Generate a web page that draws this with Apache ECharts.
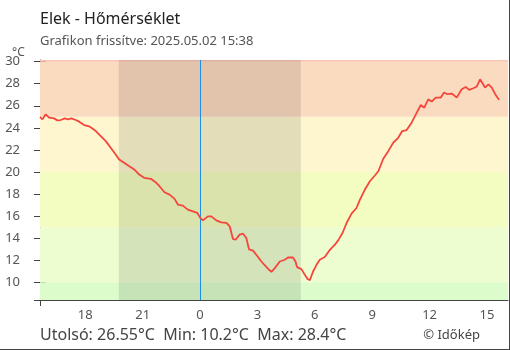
<!DOCTYPE html>
<html>
<head>
<meta charset="utf-8">
<script src="https://cdn.jsdelivr.net/npm/echarts@6/dist/echarts.min.js"></script>
<style>
  html, body { margin: 0; padding: 0; background: #fff; }
  #c { width: 510px; height: 350px; box-sizing: border-box; border-right: 1px solid #444; border-bottom: 1px solid #444; }
</style>
</head>
<body>
<div id="c"></div>
<script>
// Hours relative to midnight of 2025.05.02 (negative = previous evening)
const hours = [-8.367, -8.24, -8.07, -7.89, -7.63, -7.46, -7.29, -7.06, -6.90, -6.73,
  -6.50, -6.32, -6.06, -5.80, -5.63, -5.45, -5.19, -4.93, -4.67, -4.41,
  -4.23, -3.97, -3.70, -3.44, -3.18, -2.92, -2.57, -2.31, -2.12, -1.86,
  -1.59, -1.33, -1.16, -0.90, -0.64, -0.37, -0.14, 0.01, 0.15, 0.41,
  0.59, 0.85, 1.11, 1.38, 1.55, 1.72, 1.86, 2.07, 2.25, 2.42,
  2.56, 2.77, 2.98, 3.21, 3.38, 3.61, 3.73, 3.91, 4.17, 4.43,
  4.60, 4.86, 4.99, 5.07, 5.30, 5.48, 5.62, 5.74, 5.91, 6.09,
  6.26, 6.52, 6.79, 7.05, 7.22, 7.45, 7.66, 7.92, 8.18, 8.36,
  8.62, 8.88, 9.14, 9.32, 9.58, 9.84, 10.10, 10.36, 10.57, 10.80,
  11.06, 11.33, 11.54, 11.72, 11.93, 12.11, 12.32, 12.58, 12.76, 12.93,
  13.16, 13.42, 13.68, 13.89, 14.07, 14.29, 14.47, 14.64, 14.90, 15.08,
  15.25, 15.43, 15.633];

const temps = [24.98, 24.77, 25.23, 24.93, 24.86, 24.68, 24.71, 24.86, 24.77, 24.86,
  24.71, 24.56, 24.25, 24.14, 23.95, 23.71, 23.25, 22.80, 22.20, 21.59,
  21.14, 20.84, 20.53, 20.23, 19.77, 19.47, 19.38, 19.05, 18.71, 18.16,
  17.95, 17.56, 17.05, 16.95, 16.59, 16.44, 16.29, 15.84, 15.62, 15.98,
  15.98, 15.62, 15.44, 15.38, 15.08, 13.93, 13.86, 14.32, 14.41, 14.02,
  12.99, 12.87, 12.41, 11.89, 11.55, 11.14, 10.95, 11.29, 11.89, 12.05,
  12.25, 12.25, 11.89, 11.38, 11.20, 10.68, 10.30, 10.20, 10.98, 11.59,
  12.05, 12.29, 12.95, 13.41, 13.80, 14.47, 15.38, 16.23, 16.74, 17.50,
  18.41, 19.16, 19.68, 20.07, 21.20, 21.89, 22.65, 23.10, 23.71, 23.80,
  24.47, 25.38, 26.07, 25.83, 26.59, 26.38, 26.74, 26.74, 27.20, 27.05,
  27.11, 26.74, 27.50, 27.71, 27.44, 27.59, 27.75, 28.40, 27.65, 27.95,
  27.65, 27.05, 26.55];

const xTickHours = [-6, -3, 0, 3, 6, 9, 12, 15];
const yTickValues = [10, 12, 14, 16, 18, 20, 22, 24, 26, 28, 30];
const bandThresholds = [10, 15, 20, 25, 30];
const bandColors = ['#dcfdcb', '#eefdd0', '#f4fdc1', '#fdf6cf', '#fbdbbf', '#fcc4b2'];
const sunsetHour = -4.25;   // 19:45
const sunriseHour = 5.27;   // 05:16
const xMin = -8.367, xMax = 16.1;
const yMin = 8.4, yMax = 30.15;

const title = 'Elek - Hőmérséklet';
const subtitle = 'Grafikon frissítve: 2025.05.02 15:38';
const unitLabel = '°C';
const credit = '© Időkép';

const last = temps[temps.length - 1];
const minT = Math.min(...temps);
const maxT = Math.max(...temps);
const footer = 'Utolsó: ' + last + '°C  Min: ' + minT + '°C  Max: ' + maxT + '°C';

const edges = [yMin].concat(bandThresholds, [yMax]);
const bandAreas = [];
for (let i = 0; i < edges.length - 1; i++) {
  bandAreas.push([{ yAxis: edges[i], itemStyle: { color: bandColors[i], opacity: 1 } }, { yAxis: edges[i + 1] }]);
}

const font = 'Noto Sans';
const chart = echarts.init(document.getElementById('c'));
chart.setOption({
  animation: false,
  textStyle: { fontFamily: font },
  title: [
    { text: title, left: 35, top: 6, textStyle: { fontSize: 16, fontWeight: 'normal', color: '#222', fontFamily: font } },
    { text: subtitle, left: 35, top: 30, textStyle: { fontSize: 13, fontWeight: 'normal', color: '#555', fontFamily: font } },
    { text: unitLabel, left: 7, top: 42, textStyle: { fontSize: 12, fontWeight: 'normal', color: '#555', fontFamily: font } },
    { text: footer, left: 35, top: 322, textStyle: { fontSize: 16, fontWeight: 'normal', color: '#444', fontFamily: font } },
    { text: credit, right: 24, top: 324, textStyle: { fontSize: 13, fontWeight: 'normal', color: '#444', fontFamily: font } }
  ],
  grid: { left: 40, right: 1, top: 60, bottom: 49 },
  xAxis: [
    {
      type: 'value', min: xMin, max: xMax,
      axisLine: { show: true, onZero: false, lineStyle: { color: '#444', width: 1 } },
      splitLine: { show: false },
      axisTick: { show: true, inside: true, length: 6, customValues: xTickHours, lineStyle: { color: '#444' } },
      axisLabel: { customValues: xTickHours, color: '#555', fontSize: 13, margin: 9,
        formatter: v => String((Math.round(v) + 24) % 24) }
    },
    {
      type: 'value', min: xMin, max: xMax, position: 'bottom',
      axisLine: { show: false, onZero: false }, splitLine: { show: false },
      axisTick: { show: true, inside: false, length: 6, customValues: [xMin], lineStyle: { color: '#444' } },
      axisLabel: { show: false }
    }
  ],
  yAxis: [
    {
      type: 'value', min: yMin, max: yMax, position: 'left',
      axisLine: { show: true, onZero: false, lineStyle: { color: '#444', width: 1 } },
      splitLine: { show: false },
      axisTick: { show: true, inside: false, length: 6, customValues: [yMin].concat(yTickValues), lineStyle: { color: '#444' } },
      axisLabel: { customValues: yTickValues, color: '#555', fontSize: 13, margin: 20 }
    },
    {
      type: 'value', min: yMin, max: yMax, position: 'left',
      axisLine: { show: false, onZero: false }, splitLine: { show: false },
      axisTick: { show: true, inside: true, length: 6, customValues: yTickValues, lineStyle: { color: '#444' } },
      axisLabel: { show: false }
    }
  ],
  series: [
    {
      type: 'line', data: [], z: 1, silent: true,
      markArea: { silent: true, data: bandAreas }
    },
    {
      type: 'line', data: [], z: 2, silent: true,
      markArea: { silent: true, itemStyle: { color: 'rgba(0,0,0,0.1)' },
        data: [[{ xAxis: sunsetHour }, { xAxis: sunriseHour }]] },
      markLine: { silent: true, symbol: 'none', label: { show: false },
        lineStyle: { color: '#1e8fe6', width: 1, type: 'solid' },
        data: [{ xAxis: 0 }] }
    },
    {
      type: 'line', z: 5, showSymbol: false, smooth: false,
      lineStyle: { color: '#f4463d', width: 1.8 },
      data: hours.map((h, i) => [h, temps[i]])
    }
  ]
});
</script>
</body>
</html>
